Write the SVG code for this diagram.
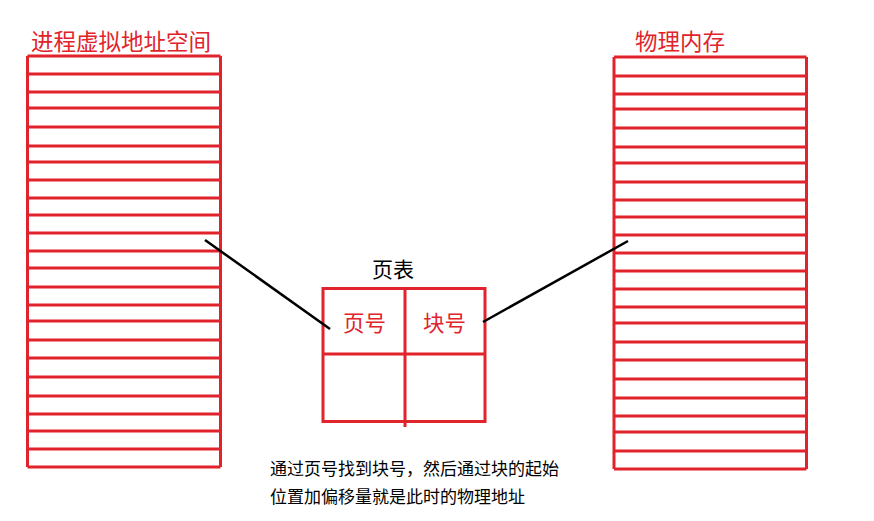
<svg xmlns="http://www.w3.org/2000/svg" width="874" height="521" viewBox="0 0 874 521">
<style>
.r{stroke:#e1232b;stroke-width:3;fill:none}
.k{stroke:#000;stroke-width:2.5;fill:none}
.t{font-family:"Noto Sans CJK SC","Microsoft YaHei",sans-serif}
.red{fill:#e1232b}
</style>
<rect width="874" height="521" fill="#fff"/>
<g id="virtual-space">
<text class="t red" x="31" y="50" font-size="22.5">进程虚拟地址空间</text>
<path class="r" d="M27.5 56V467M220.5 56V467"/>
<path class="r" d="M27.5 56H220.5M27.5 74H220.5M27.5 92H220.5M27.5 108H220.5M27.5 127H220.5M27.5 146H220.5M27.5 162H220.5M27.5 180H220.5M27.5 198H220.5M27.5 215H220.5M27.5 233H220.5M27.5 251H220.5M27.5 268H220.5M27.5 287H220.5M27.5 305H220.5M27.5 321H220.5M27.5 340H220.5M27.5 358H220.5M27.5 377H220.5M27.5 396H220.5M27.5 414H220.5M27.5 431H220.5M27.5 449H220.5M27.5 467H220.5"/>
</g>
<g id="physical-memory">
<text class="t red" x="635" y="50" font-size="22.5">物理内存</text>
<path class="r" d="M614 57V469M806.5 57V469"/>
<path class="r" d="M614 57H806.5M614 76H806.5M614 94H806.5M614 109H806.5M614 128H806.5M614 147H806.5M614 163H806.5M614 182H806.5M614 200H806.5M614 217H806.5M614 235H806.5M614 253H806.5M614 271H806.5M614 289H806.5M614 307H806.5M614 323H806.5M614 342H806.5M614 360H806.5M614 379H806.5M614 398H806.5M614 416H806.5M614 432H806.5M614 451H806.5M614 469H806.5"/>
</g>
<g id="page-table">
<text class="t" x="372" y="277" font-size="21" fill="#000">页表</text>
<rect class="r" x="323" y="288.5" width="162" height="133"/>
<path class="r" d="M323 354H485M405 288.5V427"/>
<text class="t red" x="343" y="331" font-size="21.5">页号</text>
<text class="t red" x="423" y="331" font-size="21.5">块号</text>
</g>
<g id="connectors">
<path class="k" d="M205 240L330 329"/>
<path class="k" d="M483 322L628 241"/>
</g>
<g id="note">
<text class="t" x="270" y="475" font-size="17" fill="#000">通过页号找到块号，然后通过块的起始</text>
<text class="t" x="270" y="503" font-size="17" fill="#000">位置加偏移量就是此时的物理地址</text>
</g>
</svg>
